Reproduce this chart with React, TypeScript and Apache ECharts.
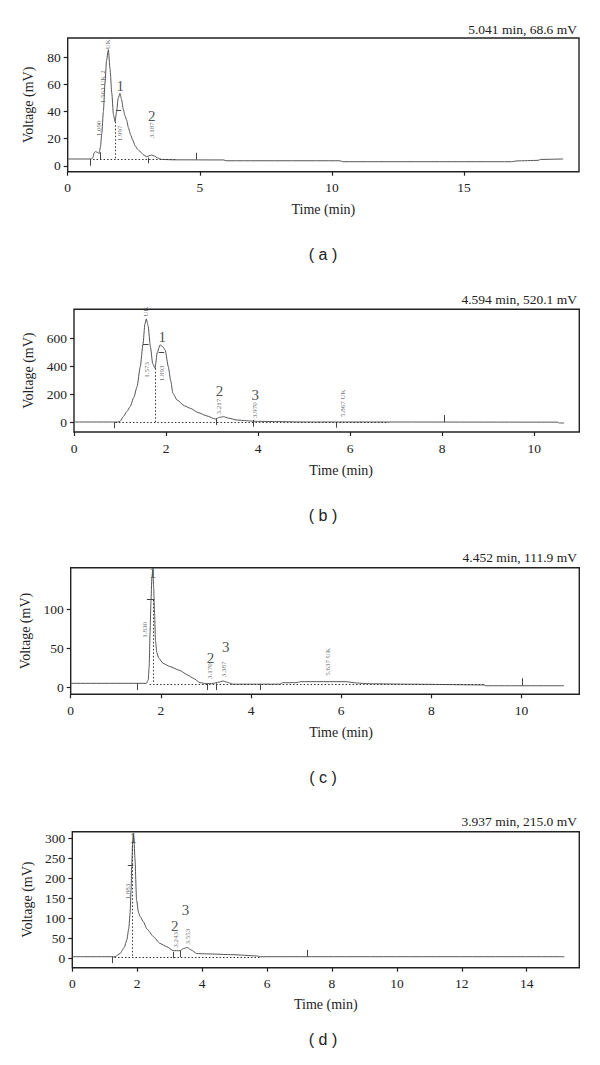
import React, { useEffect, useRef } from "react";
import * as echarts from "echarts";

const SERIF = '"Liberation Serif", "Times New Roman", serif';
const SANS = '"Liberation Sans", Arial, sans-serif';

// ---------- Panel (a) ----------
const timeA = [0, 0.9, 0.95, 1.0, 1.05, 1.12, 1.19, 1.24, 1.29, 1.35, 1.41, 1.47, 1.54, 1.6, 1.67, 1.73, 1.79, 1.85, 1.91, 1.98, 2.04, 2.1, 2.17, 2.23, 2.3, 2.38, 2.46, 2.55, 2.65, 2.75, 2.87, 2.99, 3.08, 3.18, 3.28, 3.4, 3.56, 4.0, 5.9, 6.0, 10.3, 10.4, 16.8, 17.0, 17.8, 17.9, 18.75];
const voltA = [5, 5, 6, 9.5, 10.4, 10, 9, 14, 24, 40, 61, 78, 86, 72, 53.6, 38, 32.6, 40, 50, 53.6, 49, 42, 37, 33.8, 28, 23, 19, 15, 12, 10.4, 8, 6.7, 7.4, 7.9, 7.2, 5.8, 4.7, 4.4, 4.3, 3.7, 3.7, 3.0, 3.0, 3.6, 4.0, 4.7, 5.0];
const xTicksA = [0, 5, 10, 15];
const yTicksA = [0, 20, 40, 60, 80];
const peakNumsA = [[1.99, 59, "1"], [3.18, 37, "2"]];
const rtLabelsA = [[1.2, 27.7, "1.090"], [1.35, 58.5, "1.563 UK 2"], [1.54, 90, "UK"], [1.98, 24, "1.997"], [3.18, 26.4, "3.187"]];
const ticksA = [[0.87, 5, 0], [1.22, 10, 4.7], [3.03, 6, 1.8], [4.86, 9.6, 4.6]];
const dropsA = [[1.79, 32.6, 4.7]];
const basesA = [[0.96, 4.13, 4.7]];
const widthsA = [[1.83, 2.02, 41]];

// ---------- Panel (b) ----------
const timeB = [0, 0.95, 1.0, 1.07, 1.15, 1.22, 1.3, 1.37, 1.44, 1.5, 1.54, 1.57, 1.61, 1.66, 1.71, 1.76, 1.81, 1.87, 1.93, 1.98, 2.05, 2.1, 2.15, 2.24, 2.4, 2.53, 2.7, 2.89, 3.07, 3.16, 3.25, 3.35, 3.54, 3.75, 3.95, 4.4, 5.0, 6.8, 10.5, 10.55, 10.65];
const voltB = [5, 5, 9, 43, 80, 114, 180, 256, 398, 560, 700, 738, 690, 540, 420, 387, 500, 553, 540, 517, 398, 300, 209, 161, 120, 102, 72, 48, 26, 38, 43, 33, 19, 14, 10, 8, 5, 5, 4, -2, -2];
const xTicksB = [0, 2, 4, 6, 8, 10];
const yTicksB = [0, 200, 400, 600];
const peakNumsB = [[1.92, 612, "1"], [3.16, 225, "2"], [3.94, 197, "3"]];
const rtLabelsB = [[1.56, 790, "UK"], [1.58, 375, "1.573"], [1.92, 351, "1.893"], [3.16, 114, "3.217"], [3.94, 90, "3.970"], [5.85, 138, "5.867 UK"]];
const ticksB = [[0.87, 5, -40], [3.1, 31, -16], [3.9, 19, -28], [5.7, 5, -35], [8.05, 55, 4]];
const dropsB = [[1.76, 387, 5]];
const basesB = [[0.9, 6.84, 5]];
const widthsB = [[1.5, 1.62, 560], [1.84, 1.96, 500]];

// ---------- Panel (c) ----------
const timeC = [0, 1.68, 1.72, 1.74, 1.76, 1.78, 1.8, 1.82, 1.84, 1.86, 1.88, 1.91, 1.95, 2.05, 2.2, 2.42, 2.6, 2.72, 2.87, 3.0, 3.16, 3.28, 3.38, 3.5, 3.6, 4.64, 4.7, 5.0, 5.1, 6.1, 6.34, 6.64, 7.5, 9.19, 9.2, 10.94];
const voltC = [5.6, 5.6, 10, 27, 70, 110, 140, 150, 128, 95, 60, 45, 38, 31, 27, 22, 16, 12, 6.4, 5.2, 5.6, 7, 8.5, 6.5, 4.5, 4.5, 6.4, 6.4, 7.7, 7.7, 6, 5, 4.5, 3.5, 2.5, 2.5];
const xTicksC = [0, 2, 4, 6, 8, 10];
const yTicksC = [0, 50, 100];
const peakNumsC = [[1.82, 146, "1"], [3.1, 38, "2"], [3.44, 52, "3"]];
const rtLabelsC = [[1.65, 73.6, "1.830"], [3.1, 21, "3.170"], [3.41, 23.5, "3.387"], [5.71, 33, "5.637 UK"]];
const ticksC = [[1.48, 5.6, -3], [3.02, 5.2, -3], [3.22, 5.6, -3], [4.2, 4.5, -3], [10.02, 12, 2.5]];
const dropsC = [[1.83, 112, 5]];
const basesC = [[1.75, 9.19, 4.5]];
const widthsC = [[1.69, 1.85, 113]];

// ---------- Panel (d) ----------
const timeD = [0, 1.32, 1.47, 1.6, 1.68, 1.74, 1.78, 1.81, 1.83, 1.86, 1.88, 1.9, 1.93, 1.98, 2.04, 2.09, 2.19, 2.3, 2.5, 2.7, 2.91, 3.11, 3.32, 3.42, 3.54, 3.66, 3.83, 4.14, 4.95, 5.68, 5.8, 15.16];
const voltD = [5, 5, 13, 28, 47, 75, 113, 170, 229, 290, 312, 300, 250, 146, 115, 105, 92, 74, 55, 38, 30, 20, 20, 25, 28, 22, 13, 12, 10, 7, 5, 5];
const xTicksD = [0, 2, 4, 6, 8, 10, 12, 14];
const yTicksD = [0, 50, 100, 150, 200, 250, 300];
const peakNumsD = [[1.88, 300, "1"], [3.16, 82, "2"], [3.49, 121, "3"]];
const rtLabelsD = [[1.71, 167, "1.883"], [3.19, 47, "3.243"], [3.56, 55, "3.553"]];
const ticksD = [[1.24, 5, -11], [3.1, 17, 1], [3.32, 20, 4], [7.24, 22, 5]];
const dropsD = [[1.86, 290, 5]];
const basesD = [[1.3, 5.8, 3.5]];
const widthsD = [[1.71, 1.88, 233]];

const readouts = ["5.041 min, 68.6 mV", "4.594 min, 520.1 mV", "4.452 min, 111.9 mV", "3.937 min, 215.0 mV"];
const captions = ["( a )", "( b )", "( c )", "( d )"];

const panels = [
  { t: timeA, v: voltA, xT: xTicksA, yT: yTicksA, nums: peakNumsA, rts: rtLabelsA, ticks: ticksA, drops: dropsA, bases: basesA, widths: widthsA,
    left: 67.7, top: 38, width: 511.3, height: 133.7, xMax: 19.35, yMin: -4.4, yMax: 94.6, yGap: 32.5, xGap: 31, xPad: [0, 0, 0, 0], titleY: 29.3, capY: 254 },
  { t: timeB, v: voltB, xT: xTicksB, yT: yTicksB, nums: peakNumsB, rts: rtLabelsB, ticks: ticksB, drops: dropsB, bases: basesB, widths: widthsB,
    left: 74, top: 309.3, width: 505.3, height: 122.7, xMax: 10.98, yMin: -66, yMax: 806, yGap: 38.7, xGap: 31, xPad: [0, 0, 0, 29], titleY: 299.3, capY: 515 },
  { t: timeC, v: voltC, xT: xTicksC, yT: yTicksC, nums: peakNumsC, rts: rtLabelsC, ticks: ticksC, drops: dropsC, bases: basesC, widths: widthsC,
    left: 70.7, top: 567.7, width: 508.6, height: 126.6, xMax: 11.28, yMin: -8.4, yMax: 153, yGap: 35.4, xGap: 31, xPad: [0, 0, 0, 32], titleY: 557.7, capY: 777 },
  { t: timeD, v: voltD, xT: xTicksD, yT: yTicksD, nums: peakNumsD, rts: rtLabelsD, ticks: ticksD, drops: dropsD, bases: basesD, widths: widthsD,
    left: 72.3, top: 831.7, width: 507, height: 136, xMax: 15.62, yMin: -22.4, yMax: 316.5, yGap: 37, xGap: 29.5, xPad: [0, 0, 0, 0], titleY: 821.7, capY: 1039 },
];

function buildMarks(p: any) {
  const solid = { color: "#444", width: 1, type: "solid" };
  const dotted = { color: "#333", width: 1, type: [1.5, 2] };
  const out: any[] = [];
  p.ticks.forEach(([t, a, b]: number[]) => out.push([{ coord: [t, a], lineStyle: solid }, { coord: [t, b] }]));
  p.drops.forEach(([t, a, b]: number[]) => out.push([{ coord: [t, a], lineStyle: dotted }, { coord: [t, b] }]));
  p.bases.forEach(([a, b, y]: number[]) => out.push([{ coord: [a, y], lineStyle: dotted }, { coord: [b, y] }]));
  p.widths.forEach(([a, b, y]: number[]) => out.push([{ coord: [a, y], lineStyle: solid }, { coord: [b, y] }]));
  return out;
}

export default function App() {
  const ref = useRef<HTMLDivElement>(null);
  useEffect(() => {
    if (!ref.current) return;
    const chart = echarts.init(ref.current, null, { renderer: "svg" });
    const series: any[] = [];
    panels.forEach((p, i) => {
      series.push({
        type: "line",
        xAxisIndex: i,
        yAxisIndex: i,
        data: p.t.map((t, k) => [t, p.v[k]]),
        showSymbol: false,
        symbol: "none",
        smooth: 0.2,
        smoothMonotone: "x",
        lineStyle: { color: "#555", width: 1 },
        silent: true,
        markLine: {
          silent: true,
          symbol: ["none", "none"],
          label: { show: false },
          animation: false,
          data: buildMarks(p),
        },
      });
      series.push({
        type: "scatter",
        xAxisIndex: i,
        yAxisIndex: i,
        symbolSize: 1,
        itemStyle: { color: "rgba(0,0,0,0)" },
        silent: true,
        data: p.nums.map((d) => ({ value: [d[0], d[1]], name: d[2] })),
        label: { show: true, position: "inside", formatter: (q: any) => q.name, fontFamily: SERIF, fontSize: 15, color: "#222" },
      });
      series.push({
        type: "scatter",
        xAxisIndex: i,
        yAxisIndex: i,
        symbolSize: 1,
        itemStyle: { color: "rgba(0,0,0,0)" },
        silent: true,
        data: p.rts.map((d) => ({ value: [d[0], d[1]], name: d[2] })),
        label: { show: true, position: "inside", rotate: 90, formatter: (q: any) => q.name, fontFamily: SERIF, fontSize: 7, color: "#444" },
      });
    });

    const option: any = {
      animation: false,
      backgroundColor: "#ffffff",
      grid: panels.map((p) => ({
        left: p.left, top: p.top, width: p.width, height: p.height,
        show: true, borderColor: "#222", borderWidth: 1.4, backgroundColor: "transparent",
      })),
      xAxis: panels.map((p, i) => ({
        type: "value", gridIndex: i, min: 0, max: p.xMax,
        name: "Time (min)", nameLocation: "middle", nameGap: p.xGap,
        nameTextStyle: { fontFamily: SERIF, fontSize: 14, color: "#222", padding: p.xPad },
        axisLine: { show: false, onZero: false },
        splitLine: { show: false },
        axisTick: { show: true, inside: false, length: 4, customValues: p.xT, lineStyle: { color: "#222", width: 1.2 } },
        axisLabel: { customValues: p.xT, margin: 9, fontFamily: SERIF, fontSize: 13.5, color: "#222" },
      })),
      yAxis: panels.map((p, i) => ({
        type: "value", gridIndex: i, min: p.yMin, max: p.yMax,
        name: "Voltage (mV)", nameLocation: "middle", nameGap: p.yGap,
        nameTextStyle: { fontFamily: SERIF, fontSize: 14, color: "#222" },
        axisLine: { show: false, onZero: false },
        splitLine: { show: false },
        axisTick: { show: true, inside: false, length: 4, customValues: p.yT, lineStyle: { color: "#222", width: 1.2 } },
        axisLabel: { customValues: p.yT, margin: 7, fontFamily: SERIF, fontSize: 13.5, color: "#222" },
      })),
      series,
      graphic: [
        ...panels.map((p, i) => ({
          type: "text", x: 577, y: p.titleY, silent: true,
          style: { text: readouts[i], textAlign: "right", align: "right", textVerticalAlign: "middle", verticalAlign: "middle", fontFamily: SERIF, fontSize: 13.5, fill: "#222" },
        })),
        ...panels.map((p, i) => ({
          type: "text", x: 323, y: p.capY, silent: true,
          style: { text: captions[i], textAlign: "center", align: "center", textVerticalAlign: "middle", verticalAlign: "middle", fontFamily: SANS, fontSize: 16, fill: "#222" },
        })),
      ],
    };
    chart.setOption(option);
    return () => chart.dispose();
  }, []);
  return <div ref={ref} style={{ position: "absolute", left: 0, top: 0, width: 600, height: 1065, background: "#fff" }} />;
}
